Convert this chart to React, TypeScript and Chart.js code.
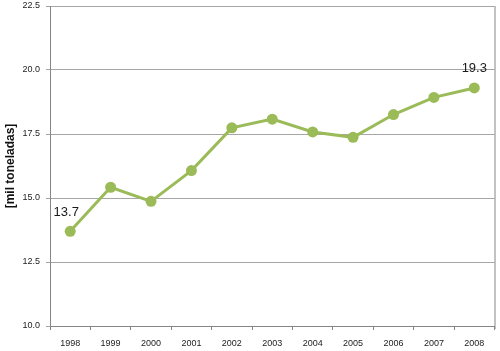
import React, { useEffect, useRef } from "react";
import { Chart, registerables } from "chart.js";

Chart.register(...registerables);

const years = ["1998", "1999", "2000", "2001", "2002", "2003", "2004", "2005", "2006", "2007", "2008"];
const values = [13.7, 15.42, 14.87, 16.07, 17.74, 18.08, 17.58, 17.37, 18.26, 18.93, 19.3];
const labeledIdx = [0, 10];
const yTitle = "[mil toneladas]";

const GREEN = "#9BBB59";
const AXIS = "#868686";
const GRID = "#A6A6A6";
const FONT = "'Liberation Sans', Arial, sans-serif";

const extras = {
  id: "extras",
  afterDatasetsDraw(chart: any) {
    const { ctx, chartArea } = chart;
    ctx.save();
    ctx.strokeStyle = AXIS;
    ctx.lineWidth = 1;
    ctx.beginPath();
    ctx.moveTo(chartArea.right + 0.5, chartArea.top);
    ctx.lineTo(chartArea.right + 0.5, chartArea.bottom + 3);
    ctx.stroke();
    const meta = chart.getDatasetMeta(0);
    ctx.font = `13px ${FONT}`;
    ctx.fillStyle = "#1a1a1a";
    ctx.textAlign = "center";
    ctx.textBaseline = "middle";
    labeledIdx.forEach((i) => {
      const p = meta.data[i];
      const dx = i === 0 ? -4 : 0;
      ctx.fillText(values[i].toFixed(1), p.x + dx, p.y - 19);
    });
    ctx.restore();
  },
};

export default function App() {
  const ref = useRef<HTMLCanvasElement>(null);
  useEffect(() => {
    const chart = new Chart(ref.current!, {
      type: "line",
      data: {
        labels: years,
        datasets: [
          {
            data: values,
            borderColor: GREEN,
            backgroundColor: GREEN,
            borderWidth: 3,
            pointRadius: 5.5,
            pointBackgroundColor: GREEN,
            pointBorderColor: GREEN,
            pointBorderWidth: 0,
            tension: 0,
          },
        ],
      },
      options: {
        responsive: false,
        animation: false,
        layout: { padding: { top: 6, right: 4, left: 0, bottom: 0 } },
        plugins: { legend: { display: false }, tooltip: { enabled: false } },
        scales: {
          x: {
            offset: true,
            grid: { offset: true, drawOnChartArea: false, tickLength: 4, color: AXIS },
            border: { color: AXIS },
            ticks: { font: { family: FONT, size: 9 }, color: "#222", padding: 8, maxRotation: 0 },
            afterFit: (s: any) => {
              s.height = 25;
              s.paddingLeft = 0;
              s.paddingRight = 0;
            },
          },
          y: {
            min: 10,
            max: 22.5,
            grid: { color: GRID, tickLength: 4 },
            border: { color: AXIS },
            ticks: {
              stepSize: 2.5,
              font: { family: FONT, size: 9 },
              color: "#222",
              padding: 6,
              callback: (v: any) => Number(v).toFixed(1),
            },
            title: {
              display: true,
              text: yTitle,
              font: { family: FONT, size: 12, weight: "bold" },
              color: "#111",
              padding: { top: 3, bottom: 0 },
            },
            afterFit: (s: any) => {
              s.width = 50;
              s.paddingTop = 0;
              s.paddingBottom = 0;
            },
          },
        },
      },
      plugins: [extras],
    });
    return () => chart.destroy();
  }, []);
  return (
    <div style={{ position: "absolute", left: 0, top: 0, width: 500, height: 351, background: "#fff" }}>
      <canvas ref={ref} width={500} height={351} />
    </div>
  );
}
